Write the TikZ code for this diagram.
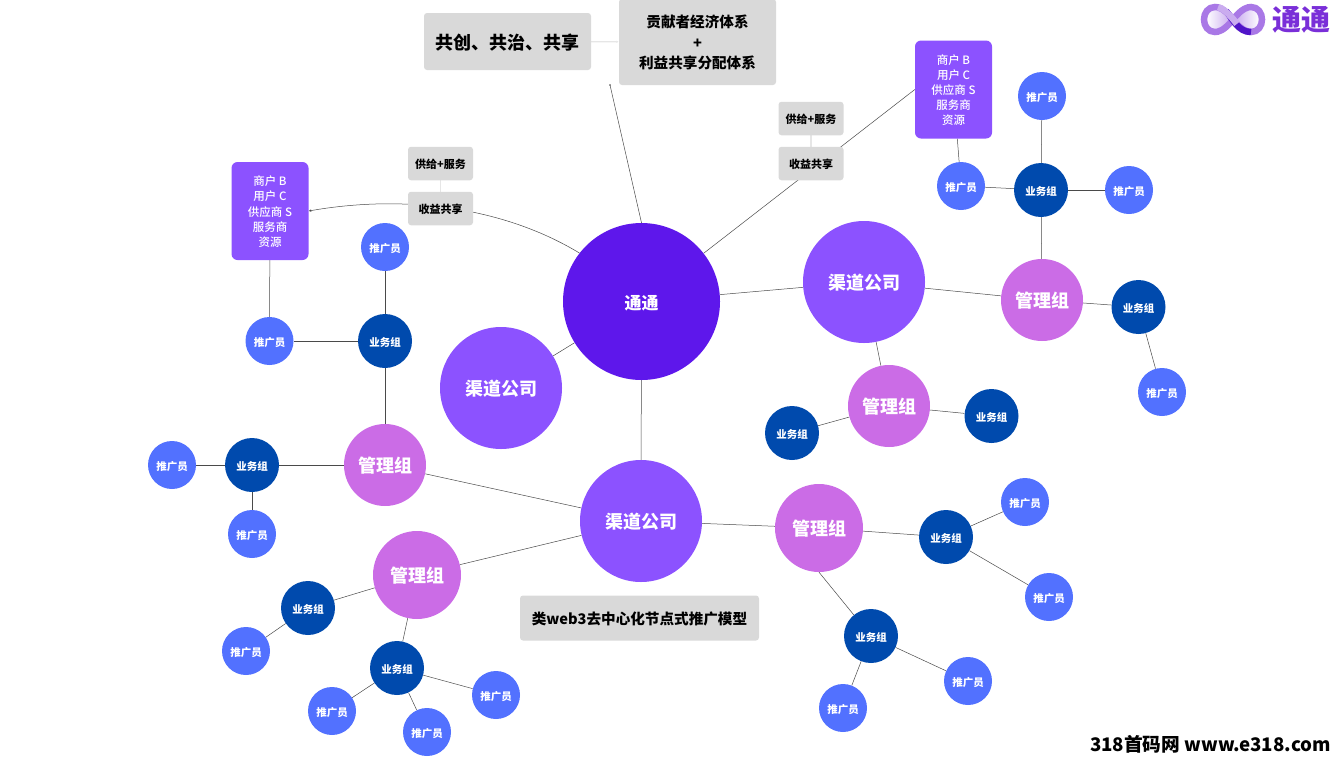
\documentclass[tikz,border=0pt]{standalone}
\usepackage{fontspec}
\setmainfont{Noto Sans CJK SC}
\newfontfamily\medfont{Noto Sans CJK SC Medium}
\usetikzlibrary{backgrounds,arrows.meta}
\definecolor{cCore}{HTML}{5E17EB}
\definecolor{cChan}{HTML}{8C52FF}
\definecolor{cMgr}{HTML}{CB6CE6}
\definecolor{cBiz}{HTML}{004AAD}
\definecolor{cProm}{HTML}{5271FF}
\definecolor{cGray}{HTML}{D9D9D9}
\definecolor{cLine}{HTML}{4A4A4A}
\definecolor{cLight}{HTML}{E6E6E6}
\definecolor{cLogo}{HTML}{7A2FD8}
\newcommand{\Tx}[1]{\raisebox{-2pt}[\height][\depth]{\begin{tabular}{@{}c@{}}#1\end{tabular}}}
\tikzset{
  x=1pt,y=-1pt,
  circ/.style={circle,inner sep=0pt,text=white,text depth=0pt,font=\bfseries\fontsize{#1}{#1}\selectfont},
  core/.style={circ=17,text height=15pt,fill=cCore,minimum size=157},
  chan/.style={circ=18,text height=15.7pt,fill=cChan,minimum size=122},
  mgr/.style={circ=18,text height=15.7pt,fill=cMgr,minimum size=82},
  mgrb/.style={circ=18,text height=15.7pt,fill=cMgr,minimum size=88},
  biz/.style={circ=10.5,text height=10pt,fill=cBiz,minimum size=54},
  prom/.style={circ=10.5,text height=10pt,fill=cProm,minimum size=48},
  gbox/.style={fill=cGray,rounded corners=3,inner sep=0pt,text=black},
  small/.style={gbox,text height=10.4pt,text depth=0pt,font=\bfseries\fontsize{11}{12}\selectfont,minimum width=65,minimum height=33.5},
  pbox/.style={fill=cChan,rounded corners=6,inner sep=0pt,text=white,minimum width=77,minimum height=98,font=\medfont\fontsize{11.5}{15.2}\selectfont},
  edge/.style={draw=cLine,line width=0.5},
  soft/.style={draw=cLight,line width=1.2},
  tip/.style={-{Latex[length=2.5pt,width=2.5pt]}},
}
\begin{document}
\begin{tikzpicture}
\useasboundingbox (0,0) rectangle (1336,761);
% centre
\node[core] (tt) at (641.5,301.5) {通通};
\node[chan] (chL) at (501,388) {渠道公司};
\node[chan] (chR) at (864,282) {渠道公司};
\node[chan] (chC) at (641,521) {渠道公司};
% managers
\node[mgr] (m1) at (1042,300) {管理组};
\node[mgr] (m2) at (889,406) {管理组};
\node[mgr] (m3) at (385,465) {管理组};
\node[mgrb] (m4) at (819,528) {管理组};
\node[mgrb] (m5) at (417,575) {管理组};
% business groups
\node[biz] (b1) at (1041,190) {业务组};
\node[biz] (b2) at (1138.5,307) {业务组};
\node[biz] (b3) at (792,433) {业务组};
\node[biz] (b4) at (991.5,416) {业务组};
\node[biz] (b5) at (385,341) {业务组};
\node[biz] (b6) at (252,465) {业务组};
\node[biz] (b7) at (946,537) {业务组};
\node[biz] (b8) at (871,636) {业务组};
\node[biz] (b9) at (308,608) {业务组};
\node[biz] (b10) at (397,668) {业务组};
% promoters
\node[prom] (p1) at (1042,96) {推广员};
\node[prom] (p2) at (1129,190) {推广员};
\node[prom] (p3) at (961,186) {推广员};
\node[prom] (p4) at (1162,392) {推广员};
\node[prom] (p5) at (385,247) {推广员};
\node[prom] (p6) at (269.5,341) {推广员};
\node[prom] (p7) at (172,465) {推广员};
\node[prom] (p8) at (252,534) {推广员};
\node[prom] (p9) at (1025,502) {推广员};
\node[prom] (p10) at (1049,597) {推广员};
\node[prom] (p11) at (968,681) {推广员};
\node[prom] (p12) at (843,708) {推广员};
\node[prom] (p13) at (246,651) {推广员};
\node[prom] (p14) at (332,711) {推广员};
\node[prom] (p15) at (427,732) {推广员};
\node[prom] (p16) at (496,695) {推广员};
% boxes
\node[gbox,text height=15.7pt,text depth=0pt,minimum width=167,minimum height=57,font=\bfseries\fontsize{18}{20}\selectfont] (gt) at (507.5,41.5) {共创、共治、共享};
\node[gbox,minimum width=157,minimum height=86,font=\bfseries\fontsize{14.6}{20.7}\selectfont] (gc) at (697.5,42) {\Tx{贡献者经济体系\\+\\利益共享分配体系}};
\node[small] (sR1) at (811,118.5) {供给+服务};
\node[small] (sR2) at (811,163.5) {收益共享};
\node[small] (sL1) at (440.5,163.5) {供给+服务};
\node[small] (sL2) at (440.5,208.5) {收益共享};
\node[pbox] (pbL) at (270,211) {\Tx{商户 B\\用户 C\\供应商 S\\服务商\\资源}};
\node[pbox] (pbR) at (953.5,89.5) {\Tx{商户 B\\用户 C\\供应商 S\\服务商\\资源}};
\node[gbox,text height=13.1pt,text depth=0pt,minimum width=239,minimum height=45,font=\bfseries\fontsize{14.6}{16}\selectfont] (title) at (639.5,618) {类web3去中心化节点式推广模型};
\coordinate (top) at (610,85);
% watermark
\node[anchor=east,inner sep=0pt,font=\bfseries\fontsize{18.7}{20}\selectfont] (mark) at (1331,744) {318首码网 www.e318.com};
% logo
\node[anchor=west,inner sep=0pt,text=cLogo,font=\bfseries\fontsize{29}{30}\selectfont] (lg) at (1272,19.5) {通通};
\shade[left color=white,right color=cLogo!35] (1217,19.5) circle (11);
\shade[left color=cLogo!35,right color=white] (1249,19.5) circle (11);
\draw[cLogo!65,line width=6.5] (1233,19.5) .. controls (1224,8) and (1218,7) .. (1215,7) .. controls (1208,7) and (1204,13) .. (1204,19.5) .. controls (1204,26) and (1208,32) .. (1215,32) .. controls (1218,32) and (1224,31) .. (1233,19.5) .. controls (1242,8) and (1248,7) .. (1251,7) .. controls (1258,7) and (1262,13) .. (1262,19.5) .. controls (1262,26) and (1258,32) .. (1251,32) .. controls (1248,32) and (1242,31) .. (1233,19.5);
\draw[cCore!85!black,line width=6.5] (1226,11) .. controls (1233,19) and (1238,32) .. (1251,32);
\draw[cLogo!40,line width=6.5] (1218,7.2) .. controls (1226,8) and (1240,28) .. (1236,23);
\begin{scope}[on background layer]
\draw[edge] (tt.north) -- (top);
\fill[cLine] (top) circle (0.8);
\draw[edge] (tt) -- (chL);
\draw[edge] (tt) -- (chR);
\draw[edge] (tt) -- (chC);
\draw[edge,tip] (tt.142) .. controls (500,205) and (400,195) .. (pbL.east);
\draw[edge] (tt) -- (pbR.west);
\draw[soft,tip] (gt) -- (gc);
\draw[soft] (sR1) -- (sR2);
\draw[soft] (sL1) -- (sL2);
\draw[edge] (chR) -- (m1);
\draw[edge] (chR) -- (m2);
\draw[edge] (m1) -- (b1);
\draw[edge] (m1) -- (b2);
\draw[edge] (b2) -- (p4);
\draw[edge] (b1) -- (p1);
\draw[edge] (b1) -- (p2);
\draw[edge] (b1) -- (p3);
\draw[edge] (p3) -- (pbR);
\draw[edge] (m2) -- (b3);
\draw[edge] (m2) -- (b4);
\draw[edge] (chC) -- (m3);
\draw[edge] (chC) -- (m4);
\draw[edge] (chC) -- (m5);
\draw[edge] (m3) -- (b5);
\draw[edge] (b5) -- (p5);
\draw[edge] (b5) -- (p6);
\draw[edge] (p6) -- (pbL);
\draw[edge] (m3) -- (b6);
\draw[edge] (b6) -- (p7);
\draw[edge] (b6) -- (p8);
\draw[edge] (m4) -- (b7);
\draw[edge] (m4.south) -- (b8);
\draw[edge] (b7) -- (p9);
\draw[edge] (b7) -- (p10);
\draw[edge] (b8) -- (p11);
\draw[edge] (b8) -- (p12);
\draw[edge] (m5) -- (b9);
\draw[edge] (m5) -- (b10);
\draw[edge] (b9) -- (p13);
\draw[edge] (b10) -- (p14);
\draw[edge] (b10) -- (p15);
\draw[edge] (b10) -- (p16);
\end{scope}
\end{tikzpicture}
\end{document}
